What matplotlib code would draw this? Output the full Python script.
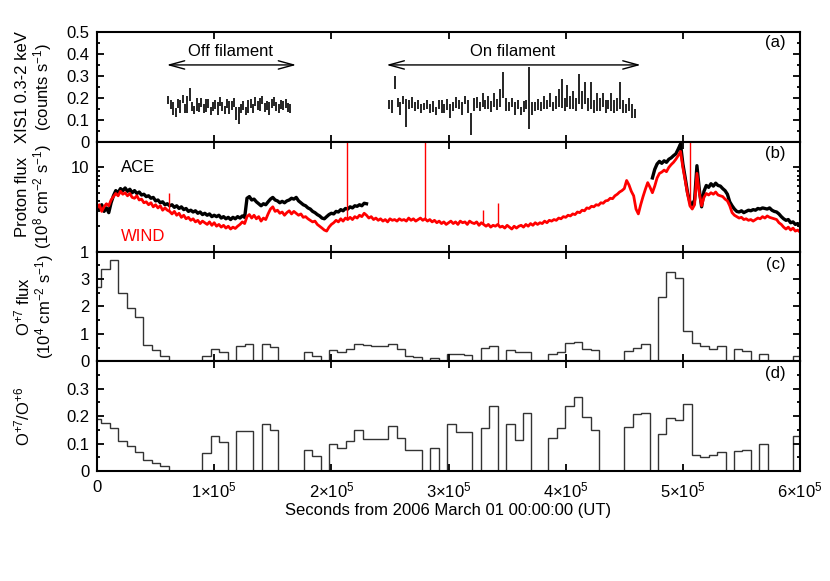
import numpy as np
import matplotlib
matplotlib.use("Agg")
import matplotlib.pyplot as plt
from matplotlib.ticker import LogLocator, NullFormatter, FixedLocator, MultipleLocator

plt.rcParams['font.family'] = ['Liberation Sans', 'DejaVu Sans']
plt.rcParams['mathtext.fontset'] = 'custom'
plt.rcParams['mathtext.rm'] = 'Liberation Sans'
plt.rcParams['mathtext.it'] = 'Liberation Sans'
plt.rcParams['mathtext.bf'] = 'Liberation Sans:bold'

# ---------------- data ----------------
# (a) XIS1 count rate
off_start, off_step = 61000, 2000
off_rate = [0.190, 0.170, 0.150, 0.135, 0.175, 0.160, 0.195, 0.150, 0.170, 0.215,
            0.160, 0.145, 0.170, 0.155, 0.180, 0.150, 0.165, 0.175, 0.140, 0.160,
            0.170, 0.150, 0.185, 0.160, 0.145, 0.175, 0.155, 0.165, 0.180, 0.130,
            0.120, 0.150, 0.165, 0.140, 0.160, 0.175, 0.150, 0.185, 0.165, 0.170,
            0.190, 0.155, 0.165, 0.150, 0.175, 0.185, 0.160, 0.150, 0.170, 0.165,
            0.175, 0.155, 0.150]
off_err = [0.02, 0.02, 0.03, 0.02, 0.02, 0.03, 0.02, 0.02, 0.04, 0.03,
           0.02, 0.02, 0.03, 0.02, 0.02, 0.02, 0.03, 0.02, 0.02, 0.02,
           0.02, 0.03, 0.02, 0.02, 0.02, 0.02, 0.03, 0.02, 0.02, 0.03,
           0.04, 0.02, 0.02, 0.02, 0.03, 0.02, 0.02, 0.02, 0.02, 0.03,
           0.02, 0.02, 0.02, 0.03, 0.02, 0.02, 0.02, 0.02, 0.02, 0.02,
           0.02, 0.02, 0.02]
on_start, on_step = 249000, 2500
on_rate = [0.17, 0.16, 0.27, 0.18, 0.15, 0.19, 0.13, 0.17, 0.18, 0.16,
           0.17, 0.15, 0.16, 0.17, 0.15, 0.16, 0.14, 0.17, 0.16, 0.15,
           0.17, 0.14, 0.16, 0.18, 0.17, 0.15, 0.19, 0.16, 0.08, 0.17,
           0.18, 0.16, 0.19, 0.17, 0.18, 0.16, 0.19, 0.17, 0.20, 0.26,
           0.17, 0.16, 0.18, 0.15, 0.17, 0.14, 0.16, 0.17, 0.20, 0.15,
           0.16, 0.17, 0.16, 0.18, 0.17, 0.19, 0.16, 0.18, 0.20, 0.22,
           0.17, 0.21, 0.18, 0.19, 0.17, 0.24, 0.19, 0.22, 0.17, 0.21,
           0.16, 0.18, 0.17, 0.19, 0.16, 0.17, 0.18, 0.16, 0.17, 0.21,
           0.16, 0.15, 0.17, 0.14, 0.13]
on_err = [0.02, 0.03, 0.03, 0.02, 0.03, 0.02, 0.065, 0.02, 0.025, 0.02,
          0.02, 0.02, 0.015, 0.02, 0.02, 0.025, 0.02, 0.02, 0.03, 0.02,
          0.025, 0.03, 0.02, 0.025, 0.02, 0.03, 0.02, 0.03, 0.05, 0.03,
          0.025, 0.02, 0.03, 0.02, 0.03, 0.025, 0.03, 0.025, 0.04, 0.06,
          0.03, 0.02, 0.02, 0.03, 0.02, 0.02, 0.025, 0.02, 0.14, 0.03,
          0.02, 0.025, 0.02, 0.03, 0.02, 0.03, 0.02, 0.03, 0.04, 0.065,
          0.03, 0.05, 0.03, 0.04, 0.03, 0.07, 0.04, 0.05, 0.03, 0.06,
          0.03, 0.04, 0.03, 0.03, 0.03, 0.02, 0.04, 0.03, 0.03, 0.06,
          0.03, 0.02, 0.03, 0.03, 0.02]

# (b) proton flux, 1e8 cm-2 s-1, sampled every 2000 s
flux_step = 2000
wind_flux = [3.3, 3.6, 3.0, 3.4, 3.7, 3.5, 4.1, 4.5, 4.9, 4.6, 5.2,
             4.8, 5.0, 4.6, 4.9, 4.4, 4.3, 4.6, 4.1, 4.2, 3.8,
             3.9, 3.6, 3.8, 3.4, 3.6, 3.3, 3.5, 3.1, 3.3, 3.1,
             3.0, 2.8, 3.0, 2.7, 2.85, 2.55, 2.7, 2.45, 2.55, 2.35,
             2.45, 2.25, 2.35, 2.15, 2.3, 2.2, 2.1, 2.25, 2.05, 2.2,
             2.0, 2.1, 1.95, 2.05, 1.9, 2.0, 1.85, 1.95, 1.88, 2.0,
             2.1, 2.25, 2.15, 2.6, 2.75, 2.5, 2.7, 2.45, 2.6, 2.3,
             2.5, 2.4, 2.8, 3.2, 3.4, 3.0, 3.1, 2.85, 2.95, 2.7,
             2.9, 3.05, 2.8, 3.0, 2.85, 2.7, 2.8, 2.55, 2.6, 2.45,
             2.35, 2.25, 2.3, 2.1, 2.0, 1.9, 1.8, 1.75, 1.95, 2.1,
             2.2, 2.35, 2.25, 2.45, 2.3, 2.5, 2.4, 2.55, 2.4, 2.6,
             2.5, 2.7, 2.6, 2.85, 2.7, 2.5, 2.6, 2.4, 2.5, 2.35,
             2.45, 2.3, 2.4, 2.25, 2.45, 2.35, 2.4, 2.3, 2.45, 2.35,
             2.4, 2.3, 2.5, 2.35, 2.45, 2.3, 2.4, 2.5, 2.35, 2.45,
             2.3, 2.4, 2.25, 2.35, 2.2, 2.3, 2.15, 2.25, 2.1, 2.2,
             2.3, 2.15, 2.25, 2.1, 2.3, 2.2, 2.25, 2.1, 2.3, 2.2,
             2.15, 2.25, 2.05, 2.2, 2.1, 2.0, 2.1, 1.95, 2.05, 2.0,
             2.1, 1.95, 2.0, 1.9, 2.05, 1.95, 1.85, 2.0, 1.9, 2.0,
             2.05, 1.95, 2.1, 2.0, 2.15, 2.05, 2.2, 2.1, 2.2, 2.15,
             2.3, 2.2, 2.35, 2.3, 2.4, 2.35, 2.5, 2.45, 2.6, 2.55,
             2.7, 2.65, 2.8, 2.75, 2.95, 2.9, 3.1, 3.05, 3.3, 3.25,
             3.45, 3.4, 3.6, 3.55, 3.8, 3.75, 4.0, 4.05, 4.3, 4.25,
             4.6, 4.8, 5.1, 5.3, 5.6, 7.0, 6.2, 5.2, 4.6, 3.2,
             2.8, 3.6, 4.5, 5.5, 6.6, 5.8, 5.0, 6.0, 7.5, 8.5,
             8.8, 9.3, 8.9, 10.0, 10.8, 11.5, 12.5, 13.8, 15.5, 10.0,
             7.0, 4.8, 3.5, 3.2, 3.6, 8.5, 5.0, 3.5, 4.4, 4.9,
             4.7, 5.0, 4.8, 5.1, 4.7, 4.6, 4.5, 4.2, 4.0, 3.5,
             2.9, 2.7, 2.6, 2.5, 2.55, 2.4, 2.45, 2.35, 2.4, 2.3,
             2.4, 2.5, 2.45, 2.6, 2.5, 2.65, 2.55, 2.5, 2.45, 2.4,
             2.2, 2.1, 1.95, 1.85, 1.95, 1.8, 1.9, 1.75, 1.8, 1.7]
ace1_start = 0
ace1_flux = [3.5, 3.2, 3.6, 3.0, 3.3, 2.9, 3.8, 4.6, 5.3, 5.0, 5.6,
             5.3, 5.7, 5.2, 5.5, 5.0, 5.3, 4.9, 5.1, 4.7, 4.8,
             4.5, 4.6, 4.3, 4.4, 4.0, 4.1, 3.8, 3.9, 3.6, 3.7,
             3.5, 3.6, 3.35, 3.5, 3.25, 3.4, 3.15, 3.25, 3.0, 3.1,
             2.95, 3.05, 2.85, 2.95, 2.75, 2.85, 2.7, 2.8, 2.6, 2.7,
             2.6, 2.7, 2.5, 2.6, 2.45, 2.55, 2.4, 2.55, 2.45, 2.6,
             2.5, 2.65, 2.55, 4.3, 4.5, 4.1, 4.2, 3.9, 3.7, 3.5,
             3.7, 3.6, 3.9, 4.2, 4.4, 4.1, 4.0, 3.8, 3.95, 3.8,
             4.0, 4.1, 4.3, 4.2, 4.4, 4.0, 3.8, 3.6, 3.5, 3.3,
             3.2, 3.0, 2.9, 2.75, 2.65, 2.5, 2.45, 2.6, 2.75, 2.85,
             2.8, 3.0, 2.95, 3.15, 3.05, 3.25, 3.2, 3.4, 3.3, 3.5,
             3.45, 3.6, 3.5, 3.75, 3.7]
ace2_start = 474000
ace2_flux = [7.5, 9.5, 11.0, 11.8, 11.2, 12.0, 11.5, 12.5, 13.0, 13.8,
             14.5, 16.5, 19.0, 11.0, 7.5, 5.0, 3.9, 3.6, 4.1, 10.5,
             5.5, 3.4, 5.2, 6.1, 5.8, 6.4, 6.0, 6.5, 6.1, 6.0,
             5.6, 5.3, 4.8, 3.9, 3.5, 3.2, 3.0, 2.95, 3.05, 2.9,
             3.0, 3.1, 3.05, 3.15, 3.1, 3.25, 3.2, 3.3, 3.25, 3.2,
             3.3, 3.1, 3.0, 2.95, 2.8, 2.6, 2.45, 2.35, 2.4, 2.2,
             2.25, 2.1, 2.15, 2.0]
wind_spike_t = [61500, 213000, 279500, 329200, 342500, 506500]
wind_spike_lo = [3.0, 2.5, 2.45, 2.2, 2.05, 3.4]
wind_spike_hi = [4.9, 21.0, 21.0, 3.1, 3.8, 21.0]

# (c),(d) 2-hour bins centred on k*7200 s
bin_width = 7200
o7_flux = [2.7, 3.38, 3.68, 2.49, 1.95, 1.61, 0.61, 0.41, 0.21, 0, 0, 0, 0,
           0.21, 0.43, 0.33, 0, 0.55, 0.63, 0, 0.63, 0.51, 0, 0, 0,
           0.33, 0.18, 0, 0.41, 0.35, 0.43, 0.63, 0.6, 0.57, 0.57, 0.63,
           0.45, 0.18, 0.15, 0, 0.12, 0, 0.26, 0.26, 0.23, 0, 0.49, 0.54,
           0, 0.41, 0.33, 0.35, 0, 0, 0.27, 0.35, 0.68, 0.7, 0.43, 0.41,
           0, 0, 0, 0.37, 0.49, 0.63, 0, 2.34, 3.26, 3.04, 1.1, 0.67,
           0.57, 0.45, 0.57, 0, 0.43, 0.38, 0, 0.26, 0, 0, 0, 0.2]
o7_o6 = [0.19, 0.176, 0.157, 0.11, 0.09, 0.07, 0.04, 0.03, 0.018, 0, 0, 0, 0,
         0.066, 0.128, 0.104, 0, 0.146, 0.146, 0, 0.17, 0.151, 0, 0, 0,
         0.078, 0.055, 0, 0.098, 0.085, 0.11, 0.149, 0.118, 0.118, 0.115, 0.163,
         0.122, 0.078, 0.078, 0, 0.085, 0, 0.173, 0.143, 0.143, 0, 0.155, 0.238,
         0, 0.173, 0.112, 0.213, 0, 0, 0.122, 0.155, 0.238, 0.27, 0.198, 0.151,
         0, 0, 0, 0.159, 0.207, 0.21, 0, 0.134, 0.195, 0.185, 0.243, 0.06,
         0.05, 0.06, 0.07, 0, 0.072, 0.078, 0, 0.1, 0, 0, 0, 0.127]

xticks = [0, 1e5, 2e5, 3e5, 4e5, 5e5, 6e5]
xticklabels = ['0', r'1$\times$10$^5$', r'2$\times$10$^5$', r'3$\times$10$^5$',
               r'4$\times$10$^5$', r'5$\times$10$^5$', r'6$\times$10$^5$']

# ---------------- figure ----------------
fig = plt.figure(figsize=(8.3, 5.81), dpi=100)
gs = fig.add_gridspec(4, 1, left=0.1169, right=0.9639, top=0.9449, bottom=0.1893, hspace=0)
axs = [fig.add_subplot(gs[i]) for i in range(4)]
FS = 12

for ax in axs:
    ax.set_xlim(0, 6e5)
    ax.set_xticks(xticks)
    ax.tick_params(which='both', direction='in', top=True, right=True, labelsize=FS, width=1.3)
    ax.tick_params(axis='y', pad=5.5)
    ax.tick_params(axis='x', pad=6.5)
    ax.tick_params(which='major', length=5)
    ax.tick_params(which='minor', length=2.5)
    for s in ax.spines.values():
        s.set_linewidth(1.5)
    ax.set_xticklabels([])
axs[3].set_xticklabels(xticklabels)
axs[3].set_xlabel('Seconds from 2006 March 01 00:00:00 (UT)', fontsize=FS, labelpad=2)

# (a)
ax = axs[0]
off_t = off_start + off_step * np.arange(len(off_rate))
on_t = on_start + on_step * np.arange(len(on_rate))
ax.errorbar(off_t, off_rate, yerr=off_err, fmt='none', color='black', lw=1.2, capsize=0)
ax.errorbar(on_t, on_rate, yerr=on_err, fmt='none', color='black', lw=1.2, capsize=0)
ax.set_ylim(0, 0.5)
ax.set_yticks([0, 0.1, 0.2, 0.3, 0.4, 0.5])
ax.set_yticklabels(['0', '0.1', '0.2', '0.3', '0.4', '0.5'])
ax.yaxis.set_minor_locator(MultipleLocator(0.05))
arrow_style = '<->,head_length=1.1,head_width=0.3'
ax.annotate('', xy=(59500, 0.35), xytext=(170000, 0.35),
            arrowprops=dict(arrowstyle=arrow_style, lw=1, color='black', shrinkA=0, shrinkB=0))
ax.annotate('', xy=(247000, 0.35), xytext=(464000, 0.35),
            arrowprops=dict(arrowstyle=arrow_style, lw=1, color='black', shrinkA=0, shrinkB=0))
ax.text(114000, 0.41, 'Off filament', ha='center', va='center', fontsize=FS)
ax.text(355000, 0.41, 'On filament', ha='center', va='center', fontsize=FS)
ax.text(0.979, 0.9, '(a)', transform=ax.transAxes, ha='right', va='center', fontsize=FS)
ax.set_ylabel('XIS1 0.3-2 keV\n(counts s$^{-1}$)', fontsize=FS, va='center', linespacing=1.05)
ax.yaxis.set_label_coords(-0.089, 0.5)

# (b)
ax = axs[1]
wind_t = flux_step * np.arange(len(wind_flux))
ace1_t = ace1_start + flux_step * np.arange(len(ace1_flux))
ace2_t = ace2_start + flux_step * np.arange(len(ace2_flux))
ax.plot(ace1_t, ace1_flux, color='black', lw=2.4)
ax.plot(ace2_t, ace2_flux, color='black', lw=2.4)
ax.plot(wind_t, wind_flux, color='red', lw=2.0)
ax.vlines(wind_spike_t, wind_spike_lo, wind_spike_hi, color='red', lw=1)
ax.set_yscale('log')
ax.set_ylim(1, 20.2)
ax.yaxis.set_major_locator(FixedLocator([1, 10]))
ax.yaxis.set_minor_locator(LogLocator(base=10, subs=np.arange(2, 10)))
ax.yaxis.set_minor_formatter(NullFormatter())
ax.set_yticklabels(['1', '10'])
ax.text(20500, 9.9, 'ACE', color='black', ha='left', va='center', fontsize=FS)
ax.text(20500, 1.5, 'WIND', color='red', ha='left', va='center', fontsize=FS)
ax.text(0.979, 0.89, '(b)', transform=ax.transAxes, ha='right', va='center', fontsize=FS)
ax.set_ylabel('Proton flux\n(10$^8$ cm$^{-2}$ s$^{-1}$)', fontsize=FS, va='center', linespacing=1.05)
ax.yaxis.set_label_coords(-0.089, 0.5)

# (c)
edges = -bin_width / 2 + bin_width * np.arange(len(o7_flux) + 1)
ax = axs[2]
ax.stairs(o7_flux, edges, baseline=0, color='#333333', lw=1)
ax.set_ylim(0, 4)
ax.set_yticks([0, 1, 2, 3])
ax.set_yticklabels(['0', '1', '2', '3'])
ax.yaxis.set_minor_locator(MultipleLocator(0.5))
ax.text(0.979, 0.88, '(c)', transform=ax.transAxes, ha='right', va='center', fontsize=FS)
ax.set_ylabel('O$^{+7}$ flux\n(10$^4$ cm$^{-2}$ s$^{-1}$)', fontsize=FS, va='center', linespacing=1.05)
ax.yaxis.set_label_coords(-0.089, 0.5)

# (d)
ax = axs[3]
ax.stairs(o7_o6, edges, baseline=0, color='#333333', lw=1)
ax.set_ylim(0, 0.4)
ax.set_yticks([0, 0.1, 0.2, 0.3])
ax.set_yticklabels(['0', '0.1', '0.2', '0.3'])
ax.yaxis.set_minor_locator(MultipleLocator(0.05))
ax.text(0.979, 0.89, '(d)', transform=ax.transAxes, ha='right', va='center', fontsize=FS)
ax.set_ylabel('O$^{+7}$/O$^{+6}$', fontsize=FS, va='center')
ax.yaxis.set_label_coords(-0.106, 0.5)

fig.savefig('out.png', dpi=100)
